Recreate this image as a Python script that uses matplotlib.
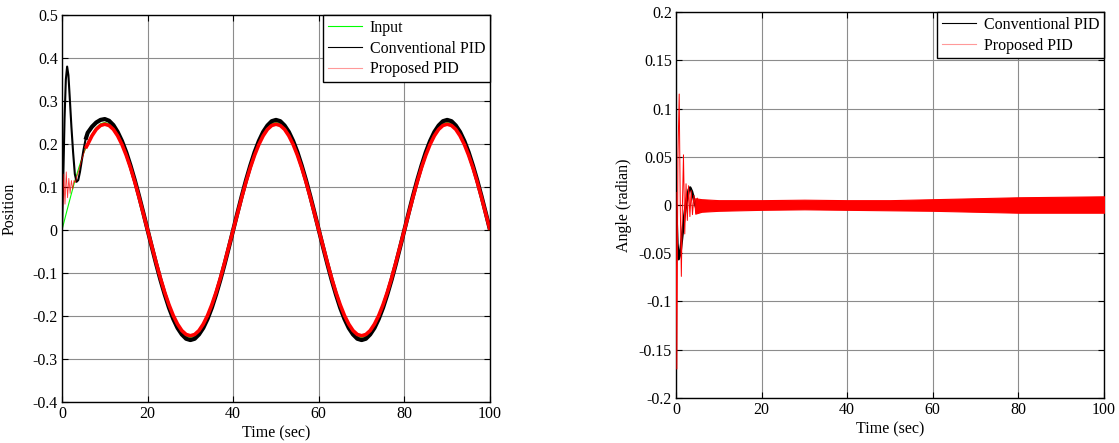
import numpy as np
import matplotlib
matplotlib.use("Agg")
import matplotlib.pyplot as plt
from matplotlib.lines import Line2D
from matplotlib.ticker import FuncFormatter, MultipleLocator

plt.rcParams["font.family"] = ["Liberation Serif", "DejaVu Serif"]
plt.rcParams["font.size"] = 11.5
plt.rcParams["axes.unicode_minus"] = False

# ---- left plot: position ----
input_time = np.arange(0, 101, 1)
input_pos = [
    0.0, 0.039, 0.077, 0.114, 0.147, 0.177, 0.202, 0.223, 0.238, 0.247,
    0.250, 0.247, 0.238, 0.223, 0.202, 0.177, 0.147, 0.114, 0.077, 0.039,
    0.0, -0.039, -0.077, -0.114, -0.147, -0.177, -0.202, -0.223, -0.238, -0.247,
    -0.250, -0.247, -0.238, -0.223, -0.202, -0.177, -0.147, -0.114, -0.077, -0.039,
    0.0, 0.039, 0.077, 0.114, 0.147, 0.177, 0.202, 0.223, 0.238, 0.247,
    0.250, 0.247, 0.238, 0.223, 0.202, 0.177, 0.147, 0.114, 0.077, 0.039,
    0.0, -0.039, -0.077, -0.114, -0.147, -0.177, -0.202, -0.223, -0.238, -0.247,
    -0.250, -0.247, -0.238, -0.223, -0.202, -0.177, -0.147, -0.114, -0.077, -0.039,
    0.0, 0.039, 0.077, 0.114, 0.147, 0.177, 0.202, 0.223, 0.238, 0.247,
    0.250, 0.247, 0.238, 0.223, 0.202, 0.177, 0.147, 0.114, 0.077, 0.039,
    0.0,
]

# start-up part (fine time steps), then one value per second from t=6
conv_start_time = [0, 0.3, 0.6, 0.9, 1.2, 1.5, 1.8, 2.2, 2.6, 3.0, 3.4, 3.8, 4.2, 4.6, 5.0, 5.5]
conv_start_pos = [0.0, 0.12, 0.26, 0.35, 0.38, 0.36, 0.31, 0.24, 0.18, 0.13, 0.112, 0.116,
                  0.135, 0.16, 0.185, 0.21]
conv_pos = [
    0.226, 0.240, 0.250, 0.256, 0.258, 0.254, 0.244, 0.228, 0.207,
    0.181, 0.150, 0.116, 0.079, 0.040,
    0.0, -0.040, -0.079, -0.116, -0.150, -0.181, -0.207, -0.228, -0.243, -0.253,
    -0.256, -0.253, -0.243, -0.228, -0.207, -0.181, -0.150, -0.116, -0.079, -0.040,
    0.0, 0.040, 0.079, 0.116, 0.150, 0.181, 0.207, 0.228, 0.243, 0.253,
    0.256, 0.253, 0.243, 0.228, 0.207, 0.181, 0.150, 0.116, 0.079, 0.040,
    0.0, -0.040, -0.079, -0.116, -0.150, -0.181, -0.207, -0.228, -0.243, -0.253,
    -0.256, -0.253, -0.243, -0.228, -0.207, -0.181, -0.150, -0.116, -0.079, -0.040,
    0.0, 0.040, 0.079, 0.116, 0.150, 0.181, 0.207, 0.228, 0.243, 0.253,
    0.256, 0.253, 0.243, 0.228, 0.207, 0.181, 0.150, 0.116, 0.079, 0.040,
    0.0,
]

prop_start_time = [0, 0.15, 0.4, 0.7, 1.0, 1.3, 1.6, 1.9, 2.2, 2.5, 2.8, 3.1, 3.5, 4.0, 4.5, 5.0, 5.5]
prop_start_pos = [0.20, 0.05, 0.13, 0.06, 0.135, 0.075, 0.12, 0.085, 0.115, 0.095, 0.115,
                  0.11, 0.125, 0.14, 0.16, 0.175, 0.19]
prop_pos = [
    0.199, 0.219, 0.234, 0.243, 0.246, 0.243, 0.234, 0.219, 0.199,
    0.174, 0.145, 0.112, 0.076, 0.038,
    0.0, -0.038, -0.076, -0.112, -0.145, -0.174, -0.199, -0.219, -0.234, -0.243,
    -0.246, -0.243, -0.234, -0.219, -0.199, -0.174, -0.145, -0.112, -0.076, -0.038,
    0.0, 0.038, 0.076, 0.112, 0.145, 0.174, 0.199, 0.219, 0.234, 0.243,
    0.246, 0.243, 0.234, 0.219, 0.199, 0.174, 0.145, 0.112, 0.076, 0.038,
    0.0, -0.038, -0.076, -0.112, -0.145, -0.174, -0.199, -0.219, -0.234, -0.243,
    -0.246, -0.243, -0.234, -0.219, -0.199, -0.174, -0.145, -0.112, -0.076, -0.038,
    0.0, 0.038, 0.076, 0.112, 0.145, 0.174, 0.199, 0.219, 0.234, 0.243,
    0.246, 0.243, 0.234, 0.219, 0.199, 0.174, 0.145, 0.112, 0.076, 0.038,
    0.0,
]
steady_time = np.arange(6, 101, 1)

# ---- right plot: angle ----
conv_ang_time = [0, 0.3, 0.6, 1.0, 1.5, 2.0, 2.5, 3.0, 3.3, 3.7, 4.2, 4.7, 5.2, 6, 7, 8, 10, 100]
conv_ang = [0.0, -0.04, -0.056, -0.05, -0.03, -0.01, 0.005, 0.016, 0.018, 0.014, 0.006,
            -0.002, -0.006, -0.006, -0.004, -0.002, 0.0, 0.0]

prop_ang_time = [0, 0.2, 0.45, 0.75, 1.0, 1.25, 1.5, 1.75, 2.05, 2.35, 2.65, 2.95, 3.25,
                 3.55, 3.85, 4.2, 4.6, 5.0]
prop_ang = [0.013, -0.17, 0.05, 0.115, 0.0, -0.074, 0.0, 0.052, -0.03, 0.022, -0.016,
            0.02, -0.012, 0.015, -0.01, 0.01, -0.008, 0.007]

# envelope of the chattering band after the start-up
band_time = [4.5, 6, 10, 20, 30, 40, 50, 60, 70, 80, 90, 100]
band_upper = [0.007, 0.006, 0.005, 0.005, 0.0055, 0.005, 0.005, 0.006, 0.007, 0.008, 0.0085, 0.009]
band_lower = [-0.009, -0.007, -0.006, -0.005, -0.0045, -0.005, -0.0055, -0.006, -0.007,
              -0.008, -0.008, -0.008]


def style_axes(ax, ymin, ymax, ystep):
    ax.set_xlim(0, 100)
    ax.set_ylim(ymin, ymax)
    ax.xaxis.set_major_locator(MultipleLocator(20))
    ax.yaxis.set_major_locator(MultipleLocator(ystep))
    ax.yaxis.set_major_formatter(FuncFormatter(lambda v, p: "%g" % round(v, 4)))
    ax.grid(True, color="#8c8c8c", linewidth=0.8, linestyle="-")
    ax.set_axisbelow(True)
    ax.tick_params(direction="in", length=4, top=True, right=True, labelsize=11.5, pad=3)
    for s in ax.spines.values():
        s.set_linewidth(1.0)
    ax.set_xlabel("Time (sec)", labelpad=2)


fig = plt.figure(figsize=(11.19, 4.43), dpi=100)

# left: position
ax1 = fig.add_axes([0.0554, 0.0926, 0.3825, 0.8736])
style_axes(ax1, -0.4, 0.5, 0.1)
ax1.plot(input_time, input_pos, color="#00ff00", linewidth=0.8)
ax1.plot(conv_start_time, conv_start_pos, color="black", linewidth=1.5)
ax1.plot([5.5] + list(steady_time), [0.21] + conv_pos, color="black", linewidth=3.0,
         solid_capstyle="butt")
ax1.plot(prop_start_time, prop_start_pos, color="red", linewidth=0.6, alpha=0.8)
ax1.plot([5.5] + list(steady_time), [0.19] + prop_pos, color="red", linewidth=2.6,
         solid_capstyle="butt")
ax1.set_ylabel("Position")
ax1.yaxis.set_label_coords(-0.103, 0.5)
handles1 = [
    Line2D([], [], color="#00ff00", linewidth=0.8),
    Line2D([], [], color="black", linewidth=0.8),
    Line2D([], [], color="#ff9999", linewidth=0.8),
]
leg1 = ax1.legend(handles1, ["Input", "Conventional PID", "Proposed PID"], loc="upper right",
                  borderaxespad=0, fancybox=False, edgecolor="black", framealpha=1,
                  handlelength=2.1, labelspacing=0.3, borderpad=0.3, handletextpad=0.5)
leg1.get_frame().set_linewidth(1.0)

# right: angle (black below, red band and spikes on top)
ax2 = fig.add_axes([0.6041, 0.1016, 0.3825, 0.8713])
style_axes(ax2, -0.2, 0.2, 0.05)
ax2.plot(conv_ang_time, conv_ang, color="black", linewidth=2.0, zorder=2)
ax2.fill_between(band_time, band_lower, band_upper, color="red", linewidth=0.8,
                 edgecolor="red", zorder=3)
ax2.plot(prop_ang_time, prop_ang, color="red", linewidth=0.7, zorder=4)
ax2.set_ylabel("Angle (radian)")
ax2.yaxis.set_label_coords(-0.103, 0.5)
handles2 = [
    Line2D([], [], color="black", linewidth=0.8),
    Line2D([], [], color="#ff9999", linewidth=0.8),
]
leg2 = ax2.legend(handles2, ["Conventional PID", "Proposed PID"], loc="upper right",
                  borderaxespad=0, fancybox=False, edgecolor="black", framealpha=1,
                  handlelength=2.1, labelspacing=0.3, borderpad=0.3, handletextpad=0.5)
leg2.get_frame().set_linewidth(1.0)
leg2.set_zorder(10)

fig.savefig("out.png", dpi=100, facecolor="white")
